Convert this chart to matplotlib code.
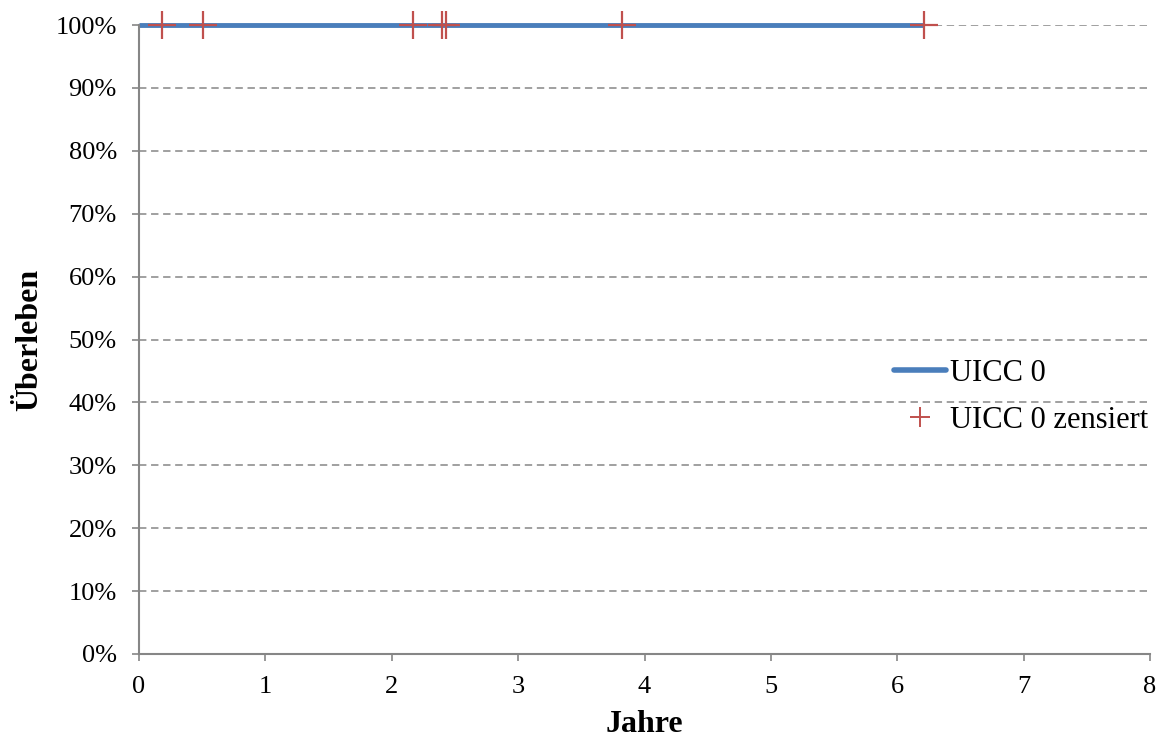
import matplotlib
matplotlib.use("Agg")
import matplotlib.pyplot as plt
import matplotlib.lines as mlines
from matplotlib.ticker import FuncFormatter

plt.rcParams['font.family'] = ['Liberation Serif', 'DejaVu Serif']

# Data
line_x = [0.0, 6.21]
line_y = [1.0, 1.0]
censored_x = [0.18, 0.51, 2.17, 2.40, 2.43, 3.82, 6.21]
censored_y = [1.0, 1.0, 1.0, 1.0, 1.0, 1.0, 1.0]
x_ticks = [0, 1, 2, 3, 4, 5, 6, 7, 8]
y_ticks = [0, 0.1, 0.2, 0.3, 0.4, 0.5, 0.6, 0.7, 0.8, 0.9, 1.0]

fig = plt.figure(figsize=(11.66, 7.42), dpi=100)
ax = fig.add_axes([0.1192, 0.1186, 0.8671, 0.8477])

for yv in y_ticks[1:]:
    ax.axhline(yv, color='#a0a0a0', linestyle=(0, (3.8, 2.4)), linewidth=1.4, zorder=1)

ax.plot(line_x, line_y, color='#4a7ebb', linewidth=3.5, solid_capstyle='butt',
        zorder=2, clip_on=False)
ax.plot(censored_x, censored_y, linestyle='none', marker='+', markersize=20,
        markeredgewidth=1.6, color='#c0504d', zorder=3, clip_on=False)

ax.set_xlim(0, 8)
ax.set_ylim(0, 1.0)
ax.set_xticks(x_ticks)
ax.set_yticks(y_ticks)
ax.yaxis.set_major_formatter(FuncFormatter(lambda v, p: f"{int(round(v*100))}%"))

for s in ['top', 'right']:
    ax.spines[s].set_visible(False)
for s in ['left', 'bottom']:
    ax.spines[s].set_color('#868686')
    ax.spines[s].set_linewidth(1.5)
ax.tick_params(axis='both', colors='#868686', length=5, width=1.2, labelsize=19,
               labelcolor='black', direction='out')
ax.tick_params(axis='x', pad=11)
ax.tick_params(axis='y', pad=11)

fig.text(0.5527, 0.024, 'Jahre', fontsize=23, fontweight='bold', ha='center', va='center')
fig.text(0.0257, 0.542, 'Überleben', fontsize=23, fontweight='bold', ha='center',
         va='center', rotation=90)

h1 = mlines.Line2D([], [], color='#4a7ebb', linewidth=4, solid_capstyle='round')
h2 = mlines.Line2D([], [], color='#c0504d', linestyle='none', marker='+', markersize=14,
                   markeredgewidth=1.4)
fig.legend([h1, h2], ['UICC 0', 'UICC 0 zensiert'], loc='center left',
           bbox_to_anchor=(0.743, 0.465), frameon=False, fontsize=22,
           handlelength=1.7, handletextpad=0.15, labelspacing=0.6)

fig.savefig('out.png', dpi=100)
